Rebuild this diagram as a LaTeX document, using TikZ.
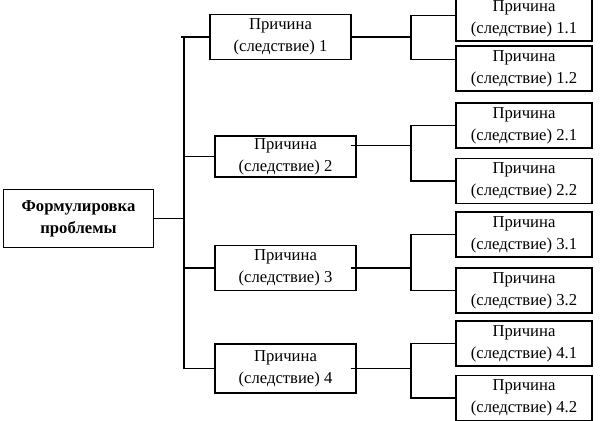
\documentclass[tikz,border=0pt]{standalone}
\usepackage{fontspec}
\setmainfont{Liberation Serif}
\usepackage{tikz}
\usetikzlibrary{positioning,calc}

\begin{document}
\begin{tikzpicture}[
    x=0.75pt, y=-0.75pt,
    font=\fontsize{12.5}{16.5}\selectfont,
    line width=0.8pt,
    rootbox/.style={draw, align=center, inner sep=0pt, minimum width=113pt, minimum height=43pt, font=\fontsize{12.5}{16.5}\selectfont\bfseries},
    causebox/.style={draw, align=center, inner sep=0pt, minimum width=105.75pt, minimum height=33.75pt},
    subbox/.style={draw, align=center, inner sep=0pt, minimum width=102pt, minimum height=33.75pt}
]
\useasboundingbox (0,0) rectangle (612,421);

% Problem
\node[rootbox] (root) at (78.5,218.5) {Формулировка\\проблемы};

% Causes
\node[causebox] (b1) at (280.5,37) {Причина\\(следствие) 1};
\node[causebox, minimum height=30.75pt] (b2) at (285.5,156.5) {Причина\\(следствие) 2};
\node[causebox] (b3) at (285.5,268) {Причина\\(следствие) 3};
\node[causebox, minimum height=36.75pt] (b4) at (285.5,368.5) {Причина\\(следствие) 4};

% Sub-causes
\node[subbox] (c11) at (524,18.5) {Причина\\(следствие) 1.1};
\node[subbox] (c12) at (524,68.5) {Причина\\(следствие) 1.2};
\node[subbox] (c21) at (524,125.5) {Причина\\(следствие) 2.1};
\node[subbox] (c22) at (524,181) {Причина\\(следствие) 2.2};
\node[subbox] (c31) at (524,234.5) {Причина\\(следствие) 3.1};
\node[subbox] (c32) at (524,290.5) {Причина\\(следствие) 3.2};
\node[subbox] (c41) at (524,343.5) {Причина\\(следствие) 4.1};
\node[subbox] (c42) at (524,398) {Причина\\(следствие) 4.2};

% Trunk
\coordinate (t) at (184,0);
\draw (root.east) -- (root.east -| t);
\draw (b1.west -| t) -- (b4.west -| t);
\draw (b1.west) -- ([xshift=-2pt]b1.west -| t);
\draw (b2.west) -- (b2.west -| t);
\draw (b3.west) -- (b3.west -| t);
\draw (b4.west) -- (b4.west -| t);

% Branches
\coordinate (s) at (411,0);
\draw (b1.east) -- (b1.east -| s);
\draw ([xshift=-4.5pt,yshift=8pt]b2.east) -- ([yshift=8pt]b2.east -| s);
\draw ([xshift=-4.5pt]b3.east) -- (b3.east -| s);
\draw ([xshift=-4.5pt]b4.east) -- (b4.east -| s);

\draw ([yshift=2pt]c11.west) -- ([yshift=2pt]c11.west -| s) -- ([yshift=7pt]c12.west -| s) -- ([yshift=7pt]c12.west);
\draw (c21.west) -- (c21.west -| s) -- (c22.west -| s) -- (c22.west);
\draw (c31.west) -- (c31.west -| s) -- (c32.west -| s) -- (c32.west);
\draw (c41.west) -- (c41.west -| s) -- (c42.west -| s) -- (c42.west);
\end{tikzpicture}
\end{document}
